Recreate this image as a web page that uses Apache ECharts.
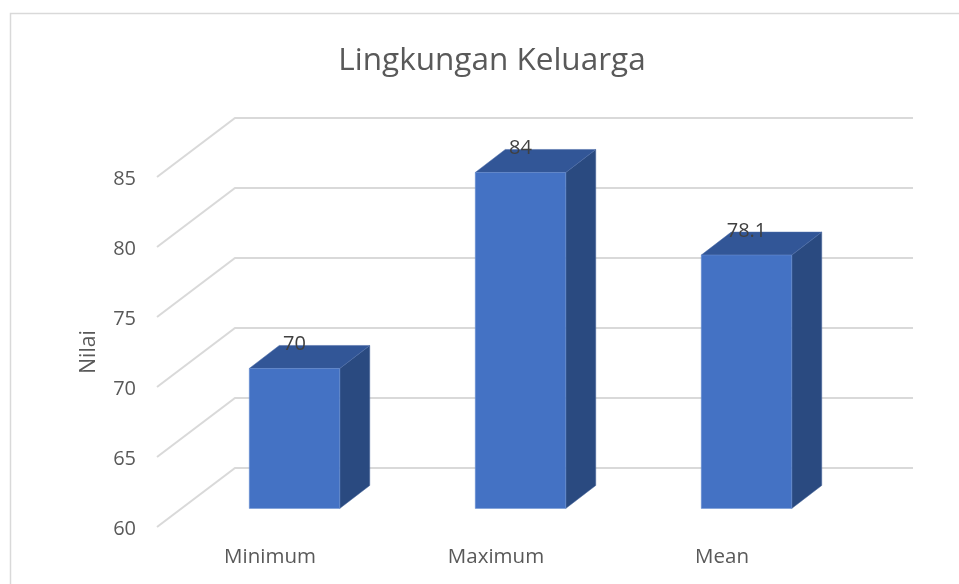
<!DOCTYPE html>
<html>
<head>
<meta charset="utf-8">
<title>Lingkungan Keluarga</title>
<style>
  html, body { margin: 0; padding: 0; background: #fff; }
  #chart { width: 959px; height: 584px; }
</style>
<script src="https://cdn.jsdelivr.net/npm/echarts@6/dist/echarts.min.js"></script>
</head>
<body>
<div id="chart"></div>
<script>
const categories = ['Minimum', 'Maximum', 'Mean']
const values = [70, 84, 78.1]
const yTicks = [60, 65, 70, 75, 80, 85]

const font = '"Open Sans", "Noto Sans", sans-serif'
const wallX = 78
const wallY = 59
const barInset = 24.5
const barWidth = 90.5
const depthX = 30
const depthY = 23

const chart = echarts.init(document.getElementById('chart'), null, { renderer: 'canvas' })

// side wall and back wall lines, one per tick
const renderWall = (params, api) => {
  const y = api.coord([0, api.value(0)])[1]
  const x0 = params.coordSys.x
  const x1 = x0 + params.coordSys.width
  return {
    type: 'polyline',
    silent: true,
    shape: { points: [[x0, y], [x0 + wallX, y - wallY], [x1 + wallX, y - wallY]] },
    style: { fill: 'none', stroke: '#d9d9d9', lineWidth: 2 }
  }
}

const renderBar = (params, api) => {
  const cat = api.value(0)
  const top = api.coord([cat, api.value(1)])
  const base = api.coord([cat, yTicks[0]])
  const left = top[0] + barInset - barWidth / 2
  const right = left + barWidth
  const topY = top[1] - wallY * barInset / wallX
  const botY = base[1] - wallY * barInset / wallX
  return {
    type: 'group',
    children: [
      {
        type: 'polygon',
        shape: { points: [[right, topY], [right + depthX, topY - depthY], [right + depthX, botY - depthY], [right, botY]] },
        style: { fill: '#2a4a80', stroke: '#4d6b9e', lineWidth: 0.5 }
      },
      {
        type: 'polygon',
        shape: { points: [[left, topY], [left + depthX, topY - depthY], [right + depthX, topY - depthY], [right, topY]] },
        style: { fill: '#325697', stroke: '#4a6ba6', lineWidth: 0.5 }
      },
      {
        type: 'rect',
        shape: { x: left, y: topY, width: barWidth, height: botY - topY },
        style: { fill: '#4472c4', stroke: '#6a90d2', lineWidth: 0.5 }
      },
      {
        type: 'text',
        z2: 10,
        style: {
          x: left + barWidth / 2,
          y: topY - 24,
          text: String(api.value(1)),
          align: 'center',
          verticalAlign: 'middle',
          font: '20px ' + font,
          fill: '#404040'
        }
      }
    ]
  }
}

const option = {
  animation: false,
  backgroundColor: '#fff',
  title: {
    text: 'Lingkungan Keluarga',
    left: 487,
    top: 40,
    textAlign: 'center',
    textStyle: { color: '#595959', fontFamily: font, fontSize: 31.5, fontWeight: 'normal' }
  },
  graphic: [
    {
      type: 'polyline',
      silent: true,
      shape: { points: [[10.5, 584], [10.5, 13.5], [959, 13.5]] },
      style: { fill: 'none', stroke: '#d9d9d9', lineWidth: 1.5 }
    }
  ],
  grid: { left: 157, top: 177, width: 678, height: 350 },
  xAxis: {
    type: 'category',
    data: categories,
    axisLine: { show: false },
    axisTick: { show: false },
    splitLine: { show: false },
    axisLabel: { color: '#595959', fontFamily: font, fontSize: 20.5, margin: 20 }
  },
  yAxis: {
    type: 'value',
    min: 60,
    max: 85,
    interval: 5,
    name: 'Nilai',
    nameLocation: 'middle',
    nameGap: 57,
    nameTextStyle: { color: '#595959', fontFamily: font, fontSize: 21 },
    axisLine: { show: false },
    axisTick: { show: false },
    splitLine: { show: false },
    axisLabel: {
      margin: 21,
      formatter: '{tick|{value}}',
      rich: {
        tick: { color: '#595959', fontFamily: font, fontSize: 20, padding: [5, 0, 0, 0] }
      }
    }
  },
  series: [
    {
      type: 'custom',
      renderItem: renderWall,
      data: yTicks.map(v => [v]),
      encode: { y: 0 },
      silent: true,
      z: 1
    },
    {
      type: 'custom',
      renderItem: renderBar,
      data: values.map((v, i) => [i, v]),
      encode: { x: 0, y: 1 },
      z: 2
    }
  ]
}

chart.setOption(option)
window.addEventListener('resize', () => chart.resize())
</script>
</body>
</html>
